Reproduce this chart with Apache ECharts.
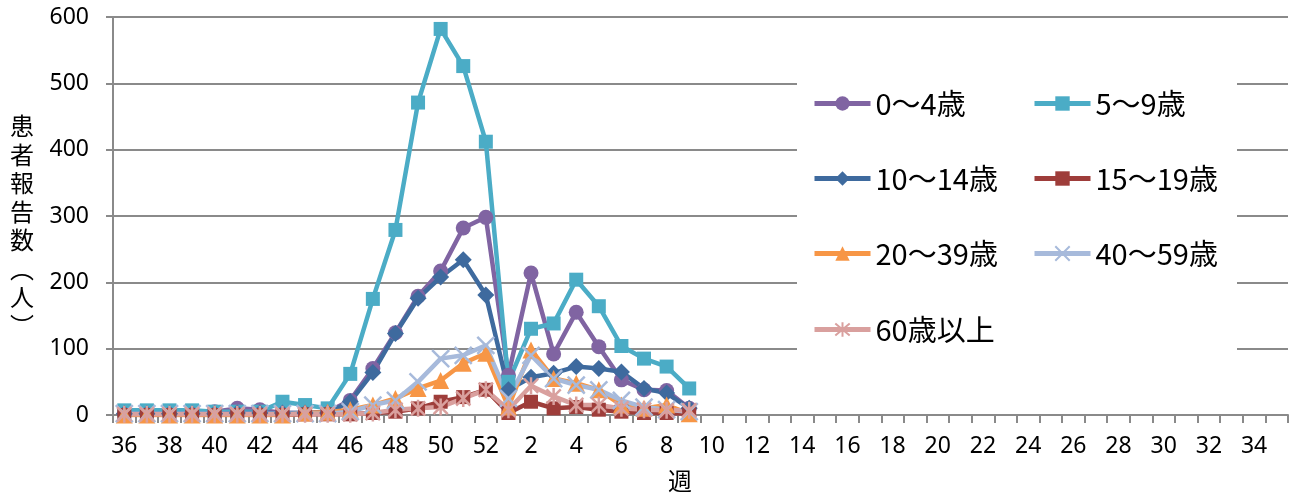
<!DOCTYPE html>
<html>
<head>
<meta charset="utf-8">
<script src="https://cdn.jsdelivr.net/npm/echarts@6/dist/echarts.min.js"></script>
<style>html,body{margin:0;padding:0;background:#fff}#c{width:1293px;height:497px}</style>
</head>
<body>
<div id="c"></div>
<script>
var weeks = ['36','37','38','39','40','41','42','43','44','45','46','47','48','49','50','51','52',
  '1','2','3','4','5','6','7','8','9','10','11','12','13','14','15','16','17','18','19','20',
  '21','22','23','24','25','26','27','28','29','30','31','32','33','34','35'];
var names = ['0～4歳','5～9歳','10～14歳','15～19歳','20～39歳','40～59歳','60歳以上'];
var age0_4   = [3,3,3,3,5,10,8,3,3,5,22,70,124,179,217,282,298,60,214,92,155,103,53,38,37,10];
var age5_9   = [7,7,7,7,5,5,5,20,15,10,62,175,279,471,582,526,412,50,130,138,204,164,104,85,73,40];
var age10_14 = [2,2,2,2,2,3,3,3,3,3,20,64,123,176,208,234,181,38,57,63,73,70,65,40,33,10];
var age15_19 = [0,0,0,0,0,0,0,0,1,1,1,3,5,10,20,27,38,3,20,10,12,8,5,3,3,2];
var age20_39 = [0,0,0,0,0,0,0,0,3,4,8,15,25,40,52,78,93,12,98,55,48,38,15,10,15,2];
var age40_59 = [2,2,2,2,2,2,2,2,2,2,5,15,22,50,85,90,105,25,90,55,45,38,22,12,8,5];
var age60    = [1,1,1,1,1,1,1,1,1,1,1,3,8,10,12,25,38,8,44,28,15,15,10,8,7,7];
var yTicks = [0,100,200,300,400,500,600];

var colors = ['#8064A2','#4BACC6','#3E6A9E','#9E3D3A','#F79646','#A7BADB','#D9A09E'];
var dataSets = [age0_4, age5_9, age10_14, age15_19, age20_39, age40_59, age60];
var symbols = ['circle','rect','diamond','rect','triangle',
  'path://M0,0L10,10M10,0L0,10',
  'path://M0,0L10,10M10,0L0,10M5,-1L5,11'];
var sizes = [15,14,17,14,17,17,17];

var series = dataSets.map(function(d,i){
  var stroke = i >= 5;
  return {
    name: names[i], type: 'line', data: d,
    symbol: symbols[i], symbolSize: sizes[i], showSymbol: true, showAllSymbol: true,
    symbolKeepAspect: true,
    lineStyle: {color: colors[i], width: 4.5},
    itemStyle: stroke ? {color: 'rgba(0,0,0,0)', borderColor: colors[i], borderWidth: 2.5} : {color: colors[i], borderWidth: 0},
    emphasis: {disabled: true},
    animation: false
  };
});

var legPos = [[812,89],[1032,89],[812,164],[1032,164],[812,239],[1032,239],[812,315]];
var legends = names.map(function(n,i){
  return {
    data: [n], left: legPos[i][0], top: legPos[i][1], padding: 0,
    itemWidth: 56, itemHeight: 18, itemGap: 0, z: 10,
    lineStyle: {width: 5},
    textStyle: {fontSize: 29, color: '#000', fontFamily: 'Noto Sans CJK JP'},
    selectedMode: false
  };
});

var chart = echarts.init(document.getElementById('c'));
chart.setOption({
  animation: false,
  color: colors,
  grid: {left: 113, right: 5, top: 17, bottom: 82, containLabel: false},
  legend: legends,
  xAxis: {
    type: 'category', data: weeks, boundaryGap: true,
    axisLine: {lineStyle: {color: '#8a8a8a', width: 2}},
    axisTick: {show: true, interval: 0, length: 8, lineStyle: {color: '#8a8a8a', width: 2}},
    axisLabel: {interval: 1, margin: 20, fontSize: 23, color: '#000', fontFamily: 'Noto Sans'},
    splitLine: {show: false}
  },
  yAxis: {
    type: 'value', min: yTicks[0], max: yTicks[yTicks.length-1], interval: 100,
    axisLine: {show: true, lineStyle: {color: '#8a8a8a', width: 2}},
    axisTick: {show: true, length: 7, lineStyle: {color: '#8a8a8a', width: 2}},
    axisLabel: {margin: 24, fontSize: 23, color: '#000', fontFamily: 'Noto Sans'},
    splitLine: {show: true, lineStyle: {color: '#8a8a8a', width: 2}}
  },
  graphic: [
    {type: 'rect', z: 3, shape: {x: 797, y: 68, width: 440, height: 294}, style: {fill: '#fff'}},
    {type: 'text', z: 5, left: 10, top: 112, style: {text: '患\n者\n報\n告\n数\n︵\n人\n︶', fontSize: 24, lineHeight: 28.5, fill: '#000', fontFamily: 'Noto Sans CJK JP', align: 'center'}},
    {type: 'text', z: 5, left: 668, top: 469, style: {text: '週', fontSize: 24, fill: '#000', fontFamily: 'Noto Sans CJK JP'}}
  ],
  series: series
});
</script>
</body>
</html>
